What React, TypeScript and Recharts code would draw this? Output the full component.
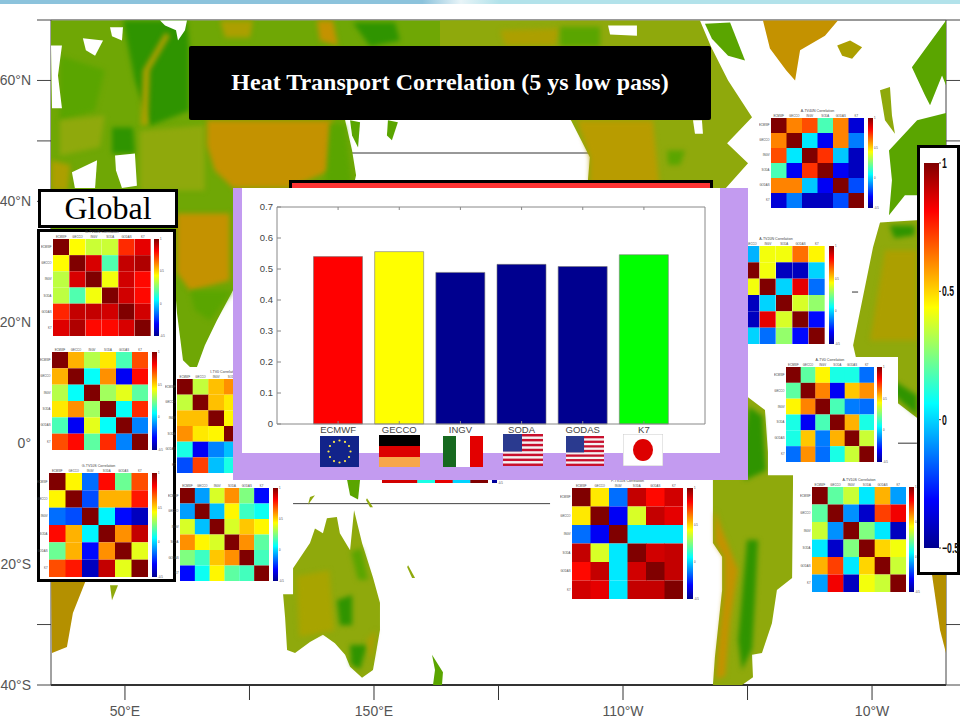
import { BarChart, Bar, Cell, XAxis, YAxis, ScatterChart, Scatter, ReferenceLine } from "recharts";

// ---- bar chart values ----
const products = ["ECMWF", "GECCO", "INGV", "SODA", "GODAS", "K7"];
const correlation = [0.54, 0.556, 0.489, 0.515, 0.508, 0.546];
const barColors = ["#ff0000", "#ffff00", "#00008f", "#00008f", "#00008f", "#00ff00"];
const corrTicks = [0, 0.1, 0.2, 0.3, 0.4, 0.5, 0.6, 0.7];

// ---- correlation matrices ----
const gTop = [
  [1, 0.44, 0.36, 0.36, 0.75, 0.85],
  [0.44, 1, 0.87, 0.18, 0.9, 0.93],
  [0.34, 0.87, 1, 0.42, 0.88, 0.8],
  [0.34, 0.18, 0.42, 1, 0.88, 0.8],
  [0.76, 0.9, 0.9, 0.88, 1, 0.88],
  [0.86, 0.93, 0.8, 0.8, 0.87, 1],
];
const gMid = [
  [1, 0.55, 0.33, 0.47, 0.17, 0.7],
  [0.55, 1, 0.07, 0.6, -0.33, 0.8],
  [0.33, 0.07, 1, 0.3, 0.4, 0.2],
  [0.47, 0.6, 0.3, 1, 0.07, 0.75],
  [0.17, -0.33, 0.4, 0.07, 1, -0.12],
  [0.7, 0.8, 0.2, 0.75, -0.12, 1],
];
const gLow = [
  [1, 0.45, -0.15, 0.8, 0.22, 0.7],
  [0.45, 1, -0.2, 0.55, 0.55, 0.78],
  [-0.15, -0.2, 1, 0.05, -0.3, -0.42],
  [0.8, 0.55, 0.05, 1, 0.6, 0.9],
  [0.22, 0.55, -0.3, 0.6, 1, 0.4],
  [0.7, 0.78, -0.42, 0.9, 0.4, 1],
];
const iEq = [
  [1, 0.35, 0.53, 0.6, 0.1, -0.2],
  [0.35, 1, 0.53, 0.47, -0.33, 0.72],
  [0.53, 0.53, 1, 0.45, -0.12, -0.03],
  [0.6, 0.47, 0.45, 1, -0.03, 0.1],
  [0.1, -0.33, -0.12, -0.03, 1, 0.1],
  [-0.2, 0.72, -0.03, 0.1, 0.1, 1],
];
const iSouth = [
  [1, -0.08, 0.38, 0.6, 0.25, -0.3],
  [-0.08, 1, -0.03, 0.45, 0.15, 0.08],
  [0.38, -0.03, 1, 0.38, 0.52, 0.45],
  [0.6, 0.45, 0.38, 1, 0.6, 0.2],
  [0.25, 0.15, 0.52, 0.6, 1, 0.16],
  [-0.3, 0.08, 0.45, 0.2, 0.16, 1],
];
const pHidden = [
  [1, 0.7, 0.4, 0.8, 0.5, 0.88],
  [0.7, 1, 0.3, 0.7, 0.4, 0.88],
  [0.4, 0.3, 1, 0.3, 0.2, 0.1],
  [0.8, 0.7, 0.3, 1, 0.4, 0.85],
  [0.5, 0.4, 0.2, 0.4, 1, 0],
  [0.88, 0.88, 0.1, 0.85, 0, 1],
];
const pSouth = [
  [1, 0.47, -0.15, 0.9, 0.8, 0.88],
  [0.47, 1, -0.33, 0.38, 0.9, 0.85],
  [-0.15, -0.33, 1, 0.03, 0.03, 0.03],
  [0.9, 0.38, 0.03, 1, 0.88, 0.9],
  [0.8, 0.9, 0.03, 0.88, 1, 0.9],
  [0.88, 0.85, 0.03, 0.9, 0.9, 1],
];
const a40n = [
  [1, 0.62, 0.7, 0.17, 0.62, -0.38],
  [0.62, 1, 0.03, -0.33, 0.62, -0.13],
  [0.7, 0.03, 1, 0.74, -0.02, -0.42],
  [0.17, -0.33, 0.74, 1, -0.33, -0.42],
  [0.62, 0.62, -0.02, -0.33, 1, -0.2],
  [-0.38, -0.13, -0.42, -0.42, -0.2, 1],
];
const a20n = [
  [1, -0.05, 0.42, 0.42, 0.65, 0.45],
  [-0.05, 1, 0.42, -0.42, -0.42, 0],
  [0.42, 0.42, 1, 0, 0.85, -0.15],
  [0.42, -0.42, 0, 1, 0.38, 0.28],
  [0.65, -0.42, 0.85, 0.38, 1, -0.3],
  [0.45, 0, -0.15, 0.28, -0.3, 1],
];
const a0 = [
  [1, 0.2, 0.45, 0.1, 0.1, -0.15],
  [0.2, 1, 0.62, -0.33, 0.52, 0.6],
  [0.45, 0.62, 1, 0.17, -0.13, -0.15],
  [0.1, -0.33, 0.17, 1, 0.55, 0.1],
  [0.1, 0.52, -0.13, 0.55, 1, 0.36],
  [-0.15, 0.6, -0.15, 0.1, 0.36, 1],
];
const a10s = [
  [1, 0.2, 0.36, 0.03, 0.55, -0.08],
  [0.2, 1, -0.1, -0.4, 0.72, 0.83],
  [0.36, -0.1, 1, 0.25, 0.03, -0.42],
  [0.03, -0.4, 0.25, 1, 0.5, 0.42],
  [0.55, 0.72, 0.03, 0.5, 1, 0.36],
  [-0.08, 0.83, -0.42, 0.42, 0.36, 1],
];
const cbarTicks = [-0.5, 0, 0.5, 1];

// ---- map axes ----
const lonTicks = [50, 100, 150, 200, 250, 300, 350];
const lonLabels: Record<number, string> = { 50: "50°E", 150: "150°E", 250: "110°W", 350: "10°W" };
const latTicks = [-40, -30, -20, -10, 0, 10, 20, 30, 40, 50, 60, 70];
const latLabels: Record<number, string> = { 60: "60°N", 40: "40°N", 20: "20°N", 0: "0°", "-20": "20°S", "-40": "40°S" };

// ---- land outlines, [lon, lat] ----
const asia = [[20.3,69.9],[192.6,69.9],[192.6,65.6],[138.4,53.4],[141.2,48.4],[142.8,44.3],[141.2,41.5],[93.4,41.5],[93.4,25.3],[86.9,20.3],[82.1,16.2],[78.9,12.6],[76.1,12.6],[73.3,13.7],[70.9,21.5],[70.5,23.6],[70.5,35.4],[20.3,35.4]];
const namerica = [[176.5,69.9],[280.9,69.9],[285.3,65.6],[292.2,60],[301.8,53.9],[291.8,49.6],[300.2,46.3],[289.8,41.5],[235.5,41.5],[236.7,47.3],[229.1,53.4],[176.5,65.6]];
const baffin = [[282.9,69.4],[293,69.6],[299,63.3],[292.2,64.1],[285.7,66.9]];
const greenland = [[306.2,69.9],[336.3,69.9],[331.1,67.4],[321.1,65],[319.1,60],[315.5,61.7],[309,65.3]];
const iceland = [[336,65.8],[341.2,66.6],[346,65.5],[342,63.6],[338,64.1]];
const scandinavia = [[379.7,69.9],[366,62.2],[371.3,57.5],[373.3,55.9],[378.1,60.8],[379.7,59.2]];
const britain = [[353.2,58.4],[357.2,58.9],[358,54.2],[359.2,51.2],[355.2,53.4]];
const europe = [[379.7,54.6],[368.1,53.4],[356.8,48.4],[358,43.5],[356.8,37.7],[363.2,41],[379.7,41]];
const africa = [[353.2,36.5],[369.3,36.9],[369.3,3.8],[360.4,6.6],[345.2,11.2],[342.4,16.2],[350.4,32.4]];
const africaSouthWest = [[374.1,-21.8],[379.7,-21.8],[379.7,-34.7],[377.3,-30.9]];
const africaSouthEast = [[20.3,-21],[35.9,-21],[29.1,-28.1],[26.7,-33.7],[20.7,-34.7]];
const madagascar = [[44,-23.5],[47.2,-23.5],[44.8,-26]];
const australia = [[117.5,-20.7],[124.3,-16.5],[126.3,-14.1],[129.5,-14.9],[131.1,-12.4],[135.1,-12.2],[136.3,-14.9],[140.4,-17.7],[142,-11.1],[145.2,-16.5],[149.6,-22.2],[152.4,-26.4],[152.4,-30.9],[149.6,-37.5],[145.2,-38.8],[140.4,-37],[138.4,-35],[134.3,-33.1],[129.5,-31.7],[124.3,-32.9],[118.3,-34.7],[115.1,-34.2],[114.3,-28.8],[113.5,-25],[117.5,-25]];
const newZealand = [[173.3,-35],[177.7,-37.9],[177.3,-40],[173.7,-40],[174.5,-37.5]];
const newGuinea = [[139.2,-6.1],[144.4,-6.1],[143.6,-9.3],[140.4,-8.6]];
const isle1 = [[147.2,-9.1],[149.6,-10.6],[148.4,-10.6],[146.8,-9.4]];
const isle2 = [[124.3,-8.9],[126.3,-8.6],[123.5,-10.2]];
const newCaledonia = [[163.7,-20.2],[166.5,-22.3],[165.3,-22.3],[163.3,-20.5]];
const kamchatka = [[155.6,53.4],[159.6,53.1],[157.2,50.1],[155.2,50.9]];
const sakhalin = [[140.4,53.4],[144.4,53.1],[143.6,48.9],[141.2,50.9]];
const samerica = [[300.2,7.6],[307,5.5],[308.2,-1.5],[308.2,-5.3],[318.3,-5.3],[317.9,-22.3],[311.8,-24.3],[309.8,-29.8],[305.8,-34.7],[301.8,-35],[302.2,-38.7],[297.8,-40],[286.1,-40],[286.9,-35.4],[289.8,-24.3],[289.8,-18.8],[286.1,-16.5],[286.1,-6.1]];

// seas cut out of the land
const baltic = [[20.3,65.8],[24.7,65.8],[23.1,60.8],[24.7,55.4],[20.7,55.4]];
const whiteSea = [[33.1,67],[41.2,66.6],[38,64.1],[34.3,65]];
const karaBay = [[44,68.8],[49.2,68.8],[48.8,66.6],[44.8,67.3]];
const obGulf = [[64.1,69.9],[74.9,69.9],[74.1,68.3],[71.3,66.6],[70.5,68.3],[66.1,69.1]];
const caspian = [[46,47.6],[54,47.9],[54.8,42.6],[48.8,42.2],[46.4,45.1]];
const blackSea = [[28.7,44.8],[38.8,46.8],[38,42.2],[29.9,42.2]];
const arcticBay = [[244,69.1],[255.6,69.1],[255.6,67.4],[244.8,67.6]];
const hudsonBay = [[278.1,53.4],[281.7,53.4],[282.1,51.2],[278.9,51.2]];

// elevation patches
const siberiaLow = [[49.2,69.9],[74.9,69.9],[75.7,65.6],[75.7,55],[60,52.5],[54,60]];
const volgaLow = [[44.8,52.2],[53.2,52.2],[54,47.9],[44.8,47.9]];
const russiaWest = [[23.9,64.1],[41.9,61.7],[37.9,55],[23.9,53.4]];
const russiaSouth = [[23.9,53.4],[41.9,54.2],[39.9,49],[23.9,47.6]];
const anatolia = [[20.3,46.8],[28,46],[27.1,41.8],[20.3,41.8]];
const kazakh = [[56,51.7],[82,52.6],[82,41.8],[56,41.8]];
const urals = [[66.1,67.9],[68.1,67.4],[60,61.7],[59.2,52.6],[56.4,52.6],[57.2,61.7]];
const tibet = [[82.9,53.4],[133.5,53.4],[132.3,45.1],[116.3,42.2],[93.4,42.2],[86.1,45.1],[82.9,49.3]];
const manchuria = [[132.3,53.1],[138.4,52.6],[141.2,42.2],[130.4,42.2]];
const verkhoyansk = [[127.1,69.9],[133.5,69.9],[135.5,65.8],[128.3,66.6]];
const putorana = [[88.2,69.9],[101.4,69.9],[100.2,67.1],[90.2,67.1]];
const kolyma = [[141.6,69.6],[158.4,69.6],[160.4,66.6],[148.4,65.6]];
const himalaya = [[70.9,38],[92,38],[92,26.9],[76.1,25.2],[70.9,28.2]];
const ganges = [[76.1,25.2],[93.4,25.2],[84.1,20.3],[78.1,22]];
const rockies = [[231.5,53.4],[262,53.4],[264.8,41.8],[236.7,41.8],[236.7,47.3]];
const alaskaHigh = [[200.6,68.3],[224.7,68.6],[222.7,65.8],[202.6,65.8]];
const yukon = [[224.7,68.9],[240.8,68.9],[240.8,65.6],[224.7,65.6]];
const greatLakes = [[267.7,48.4],[274.9,48.4],[272.9,46],[268.1,46]];
const andes = [[286.9,-11.1],[289.8,-14.4],[296.2,-21],[293,-29.3],[291,-38.5],[287.5,-39],[288,-35],[290.6,-24.3],[290.6,-18.8],[287,-16.5]];
const pantanal = [[299.8,-16],[304.2,-16],[303,-26],[301.8,-34],[297.8,-37.5],[296.2,-32.6]];
const amazon = [[300.6,6],[306,4.5],[307.4,-4.5],[299,-6.1],[297,-2.8]];
const sahara = [[355.2,31.9],[368.1,31.9],[368.1,17],[349.2,17]];
const guinea = [[346,12.6],[368.1,4.6],[368.1,7.9],[349.2,12.9]];
const atlas = [[357,36],[367,36],[367,34.4],[359,33.9]];
const ozWest = [[119,-22],[132,-21],[134,-31],[120,-32]];
const ozInland = [[135.1,-26],[141.2,-25.1],[141.2,-30.1],[136.3,-30.1]];
const ozSouth = [[140.4,-33.4],[147.2,-33.4],[144.4,-37.4],[140.8,-36.6]];
const ozNorth = [[140.8,-18],[145,-17.4],[147.6,-22.6],[143.6,-22.6]];
const ozEast = [[147.2,-32.6],[150.8,-30.9],[148.9,-36.2]];

const OLIVE = "#8fa90c";
const GREEN = "#5aa500";
const DARK = "#2f9400";
const GOLD = "#ac9f00";
const ORANGE = "#c49200";

const landBase: [number[][], string][] = [
  [asia, "#6fa705"], [namerica, OLIVE], [baffin, GREEN], [greenland, ORANGE], [iceland, GOLD],
  [scandinavia, GREEN], [britain, OLIVE], [europe, GREEN], [africa, OLIVE], [africaSouthWest, "#b49000"],
  [africaSouthEast, "#b49000"], [madagascar, OLIVE], [australia, OLIVE], [newZealand, GREEN],
  [newGuinea, GREEN], [isle1, OLIVE], [isle2, OLIVE], [newCaledonia, OLIVE], [kamchatka, GREEN], [sakhalin, GREEN],
  [samerica, OLIVE],
];
const landPatches: [number[][], string][] = [
  [siberiaLow, DARK], [volgaLow, DARK], [russiaWest, GREEN], [russiaSouth, OLIVE], [anatolia, GOLD], [kazakh, OLIVE],
  [urals, GOLD], [tibet, ORANGE], [manchuria, GREEN],
  [verkhoyansk, ORANGE], [putorana, GOLD], [kolyma, DARK], [himalaya, ORANGE], [ganges, GREEN],
  [rockies, "#b89c00"], [alaskaHigh, GOLD], [yukon, GREEN], [greatLakes, GREEN], [andes, ORANGE], [pantanal, DARK], [amazon, DARK],
  [sahara, GOLD], [guinea, DARK], [atlas, DARK], [ozWest, "#a8a400"], [ozInland, DARK], [ozSouth, DARK], [ozNorth, GREEN], [ozEast, GOLD],
];
const seas = [baltic, whiteSea, karaBay, obGulf, caspian, blackSea, arcticBay, hudsonBay];

const jetStops: [number, number[]][] = [
  [0, [0, 0, 143]], [0.125, [0, 0, 255]], [0.375, [0, 255, 255]],
  [0.625, [255, 255, 0]], [0.875, [255, 0, 0]], [1, [128, 0, 0]],
];

function jet(v: number) {
  const t = Math.min(1, Math.max(0, (v + 0.5) / 1.5));
  for (let i = 1; i < jetStops.length; i++) {
    const [t0, c0] = jetStops[i - 1];
    const [t1, c1] = jetStops[i];
    if (t <= t1) {
      const f = (t - t0) / (t1 - t0);
      return `rgb(${c0.map((c, k) => Math.round(c + (c1[k] - c) * f)).join(",")})`;
    }
  }
  return "rgb(128,0,0)";
}

const box = (x: number, y: number, w: number, h: number, extra = {}) => ({
  position: "absolute" as const, left: x, top: y, width: w, height: h, boxSizing: "border-box" as const, ...extra,
});

function JetDefs() {
  return (
    <defs>
      <linearGradient id="jet" x1="0" y1="1" x2="0" y2="0">
        {jetStops.map(([t, c]) => (
          <stop key={t} offset={t} stopColor={`rgb(${c.join(",")})`} />
        ))}
      </linearGradient>
    </defs>
  );
}

function ColorBar({ x, y, w, h }: { x: number; y: number; w: number; h: number }) {
  return (
    <div style={box(x, y - 5, w + 8, h + 10)}>
      <BarChart width={w + 8} height={h + 10} data={[{ name: "c", range: [-0.5, 1] }]} margin={{ top: 5, bottom: 5, left: 0, right: 0 }} barCategoryGap={0}>
        {JetDefs()}
        <XAxis dataKey="name" hide />
        <YAxis orientation="right" type="number" domain={[-0.5, 1]} ticks={cbarTicks} width={8} axisLine={false} tickLine={false} tickSize={0} tickMargin={1} tick={{ fontSize: 2.8, fill: "#444", fontFamily: "Liberation Sans" }} />
        <Bar dataKey="range" fill="url(#jet)" isAnimationActive={false} />
      </BarChart>
    </div>
  );
}

function Heat({ title, matrix, x, y, w, h, cbarX, cbarW = 5 }: { title?: string; matrix: number[][]; x: number; y: number; w: number; h: number; cbarX: number; cbarW?: number }) {
  const rows = products.map((model) => {
    const row: Record<string, number | string> = { model };
    matrix.forEach((_, r) => (row[`r${r}`] = 1));
    return row;
  });
  const tick = { fontSize: 2.8, fill: "#444", fontFamily: "Liberation Sans" };
  return (
    <>
      {title && (
        <div style={{ ...box(x, y - 9, w, 5), fontSize: 3.6, lineHeight: "5px", textAlign: "center", fontFamily: "Liberation Sans", color: "#444", whiteSpace: "nowrap" }}>{title}</div>
      )}
      <div style={box(x - 12, y - 5, w + 12, h + 5)}>
        <BarChart width={w + 12} height={h + 5} data={rows} margin={{ top: 0, bottom: 0, left: 0, right: 0 }} barCategoryGap={0}>
          <XAxis dataKey="model" orientation="top" height={5} interval={0} axisLine={false} tickLine={false} tickSize={0} tickMargin={1} tick={tick} />
          <YAxis type="number" reversed domain={[0, 6]} ticks={[0.5, 1.5, 2.5, 3.5, 4.5, 5.5]} width={12} tickFormatter={(v: number) => products[Math.floor(v)]} axisLine={false} tickLine={false} tickSize={0} tickMargin={1.5} tick={tick} />
          {matrix.map((vals, r) => (
            <Bar key={r} dataKey={`r${r}`} stackId="m" isAnimationActive={false}>
              {vals.map((v, c) => (
                <Cell key={c} fill={jet(v)} />
              ))}
            </Bar>
          ))}
        </BarChart>
      </div>
      <ColorBar x={cbarX} y={y} w={cbarW} h={h} />
    </>
  );
}

function landSeries(pts: number[][], fill: string, blur: number, key: string) {
  return (
    <Scatter
      key={key}
      data={pts.map(([lon, lat]) => ({ lon, lat }))}
      line={{ fill, stroke: "none", style: { filter: `blur(${blur}px)` } }}
      shape={() => null}
      isAnimationActive={false}
    />
  );
}

function MapLayer() {
  const label = { fontSize: 14, fill: "#555", fontFamily: "Liberation Sans" };
  return (
    <div style={box(0, 0, 960, 720)}>
      <ScatterChart width={960} height={720} margin={{ top: 0, bottom: 0, left: 0, right: 0 }}>
        <XAxis type="number" dataKey="lon" domain={[20.3, 379.7]} ticks={lonTicks} height={35} tickSize={15} tickMargin={6} stroke="#333" axisLine={{ stroke: "#333", strokeWidth: 2 }} allowDataOverflow tick={label} tickFormatter={(v: number) => lonLabels[v] ?? ""} />
        <XAxis xAxisId="top" type="number" orientation="top" domain={[20.3, 379.7]} ticks={lonTicks} height={20} tickSize={16} stroke="#333" allowDataOverflow tickFormatter={() => ""} />
        <YAxis type="number" dataKey="lat" domain={[-40, 70]} ticks={latTicks} width={51} tickSize={14} tickMargin={6} stroke="#444" allowDataOverflow tick={label} tickFormatter={(v: number) => latLabels[v] ?? ""} />
        <YAxis yAxisId="right" type="number" orientation="right" domain={[-40, 70]} ticks={latTicks} width={14} tickSize={14} stroke="#444" allowDataOverflow tickFormatter={() => ""} />
        {landBase.map(([pts, fill], i) => landSeries(pts, fill, 0.7, `b${i}`))}
        {landPatches.map(([pts, fill], i) => landSeries(pts, fill, 2.5, `p${i}`))}
        {seas.map((pts, i) => landSeries(pts, "#fff", 0.7, `s${i}`))}
        <ReferenceLine segment={[{ x: 139, y: 48 }, { x: 237, y: 48 }]} stroke="#333" ifOverflow="visible" />
        <ReferenceLine segment={[{ x: 117.5, y: -10 }, { x: 220.7, y: -10 }]} stroke="#444" ifOverflow="visible" />
        <ReferenceLine segment={[{ x: 341.6, y: 25 }, { x: 344.4, y: 25 }]} stroke="#333" ifOverflow="visible" />
        <ReferenceLine segment={[{ x: 360, y: 0 }, { x: 368, y: 0 }]} stroke="#333" ifOverflow="visible" />
      </ScatterChart>
    </div>
  );
}

function MainBars() {
  const data = products.map((name, i) => ({ name, value: correlation[i] }));
  const tick = { fontSize: 9.5, fill: "#444", fontFamily: "Liberation Sans" };
  return (
    <div style={box(242, 188, 478, 265, { background: "#fff" })}>
      <BarChart width={478} height={265} data={data} margin={{ top: 0, bottom: 0, left: 0, right: 0 }} barSize={49}>
        <XAxis dataKey="name" height={29} interval={0} padding={{ left: 30.5, right: 30.5 }} stroke="#888" tickSize={-3} tickMargin={5} tick={tick} />
        <XAxis xAxisId="t" dataKey="name" orientation="top" height={19} interval={0} padding={{ left: 30.5, right: 30.5 }} stroke="#888" tickSize={-3} tickFormatter={() => ""} />
        <YAxis type="number" domain={[0, 0.7]} ticks={corrTicks} width={35} stroke="#888" tickSize={-4} tickMargin={8} tick={tick} tickFormatter={(v: number) => String(v)} />
        <YAxis yAxisId="r" type="number" orientation="right" domain={[0, 0.7]} ticks={corrTicks} width={15} stroke="#888" tickSize={-4} tickFormatter={() => ""} />
        <Bar dataKey="value" stroke="#777" strokeWidth={0.6} isAnimationActive={false}>
          {data.map((d, i) => (
            <Cell key={d.name} fill={barColors[i]} />
          ))}
        </Bar>
      </BarChart>
    </div>
  );
}

function EuFlag() {
  const stars = Array.from({ length: 12 }, (_, i) => i * 30);
  return (
    <svg style={box(320, 436, 39, 31)} viewBox="0 0 39 31">
      <rect width="39" height="31" fill="#12238a" />
      {stars.map((a) => (
        <circle key={a} cx={19.5 + 11 * Math.cos((a * Math.PI) / 180)} cy={15.5 + 11 * Math.sin((a * Math.PI) / 180)} r="1.1" fill="#ffe94a" />
      ))}
    </svg>
  );
}

function UsFlag({ x, y, w, h }: { x: number; y: number; w: number; h: number }) {
  const stripes = [0, 1, 2, 3, 4, 5, 6];
  return (
    <svg style={box(x, y, w, h)} viewBox="0 0 40 32" preserveAspectRatio="none">
      <rect width="40" height="32" fill="#f3f3f3" />
      {stripes.map((s) => (
        <rect key={s} y={s * 4.92} width="40" height="2.46" fill="#c8102e" />
      ))}
      <rect width="19" height="17.5" fill="#2a3a8f" />
    </svg>
  );
}

function Flags() {
  return (
    <>
      {EuFlag()}
      <svg style={box(379, 435, 41, 32)} viewBox="0 0 41 32">
        <rect width="41" height="11" fill="#000" />
        <rect y="11" width="41" height="11" fill="#dc0000" />
        <rect y="22" width="41" height="10" fill="#f7a64a" />
      </svg>
      <svg style={box(443, 436, 40, 31)} viewBox="0 0 40 31">
        <rect width="40" height="31" fill="#fff" />
        <rect width="13" height="31" fill="#17691f" />
        <rect x="27" width="13" height="31" fill="#e30000" />
      </svg>
      <UsFlag x={503} y={434} w={40} h={32} />
      <UsFlag x={566} y={436} w={38} h={30} />
      <svg style={box(623, 434, 40, 32)} viewBox="0 0 40 32">
        <rect width="40" height="32" fill="#fff" stroke="#ccc" />
        <ellipse cx="20" cy="16" rx="10" ry="11" fill="#dd0000" />
      </svg>
    </>
  );
}

function NarrowTick({ x, y, payload }: any) {
  const text = payload.value < 0 ? "−0.5" : String(payload.value);
  return (
    <text transform={`translate(${x} ${y + 5}) scale(0.62 1)`} fontSize={14} fontWeight={700} fill="#111" fontFamily="Liberation Sans" textAnchor="start">
      {text}
    </text>
  );
}

export default function App() {
  return (
    <div style={box(0, 0, 960, 720, { background: "#fff", overflow: "hidden", fontFamily: "Liberation Sans" })}>
      {MapLayer()}
      <div style={box(0, 0, 960, 4, { background: "linear-gradient(90deg,#8cc3dc 0%,#8cc3dc 44%,#e8f4f8 48%,#b2e2ea 52%,#b2e2ea 100%)" })} />

      {/* white backings behind the pasted matrices */}
      <div style={box(37, 229, 139, 353, { background: "#fff", border: "3px solid #000" })} />
      <div style={box(38, 189, 140, 39, { background: "#fff", border: "3px solid #000", fontFamily: "Liberation Serif", fontSize: 32, lineHeight: "33px", textAlign: "center" })}>Global</div>
      <div style={box(176, 368, 60, 107, { background: "#fff" })} />
      <div style={box(178, 484, 115, 110, { background: "#fff" })} />
      <div style={box(768, 357, 130, 117, { background: "#fff" })} />
      <div style={box(793, 474, 124, 126, { background: "#fff" })} />
      <div style={box(727, 230, 125, 120, { background: "#fff" })} />

      <Heat title="G-TV40N Correlation" matrix={gTop} x={53} y={239} w={98} h={97} cbarX={154} />
      <Heat matrix={gMid} x={52} y={352} w={96} h={98} cbarX={152} />
      <Heat title="G-TV10S Correlation" matrix={gLow} x={49} y={473} w={99} h={104} cbarX={152} />
      <Heat title="I-TV0 Correlation" matrix={iEq} x={177} y={379} w={94} h={94} cbarX={275} />
      <Heat matrix={iSouth} x={180} y={488} w={89} h={93} cbarX={273} />
      <Heat matrix={pHidden} x={382} y={378} w={106} h={105} cbarX={492} />
      <Heat title="P-TV10S Correlation" matrix={pSouth} x={572} y={488} w={111} h={111} cbarX={687} cbarW={6} />
      <Heat title="A-TV40N Correlation" matrix={a40n} x={771} y={118} w={93} h={90} cbarX={868} />
      <Heat title="A-TV20N Correlation" matrix={a20n} x={727} y={246} w={98} h={98} cbarX={829} />
      <Heat title="A-TV0 Correlation" matrix={a0} x={786} y={367} w={88} h={95} cbarX={877} />
      <Heat title="A-TV10S Correlation" matrix={a10s} x={812} y={487} w={94} h={105} cbarX={909} />

      <div style={box(289, 180, 424, 20, { background: "#f33", border: "3px solid #000" })} />
      <div style={box(233, 188, 515, 292, { background: "#c39bf0" })} />
      {MainBars()}
      {Flags()}

      <div style={box(189, 46, 522, 74, { background: "#000", borderRadius: 2, color: "#fff", fontFamily: "Liberation Serif", fontWeight: 700, fontSize: 24, lineHeight: "72px", textAlign: "center" })}>
        Heat Transport Correlation (5 ys low pass)
      </div>

      {/* big shared colour bar */}
      <div style={box(917, 145, 43, 430, { background: "#fff", border: "3px solid #000" })} />
      <div style={box(917, 145, 43, 430)}>
        <BarChart width={43} height={430} data={[{ name: "c", range: [-0.5, 1] }]} margin={{ top: 18, bottom: 27, left: 7, right: 0 }} barCategoryGap={0}>
          {JetDefs()}
          <XAxis dataKey="name" hide />
          <YAxis orientation="right" type="number" domain={[-0.5, 1]} ticks={cbarTicks} width={21} axisLine={false} tickSize={2} tickMargin={1} stroke="#333" tick={<NarrowTick />} />
          <Bar dataKey="range" fill="url(#jet)" isAnimationActive={false} />
        </BarChart>
      </div>
    </div>
  );
}
